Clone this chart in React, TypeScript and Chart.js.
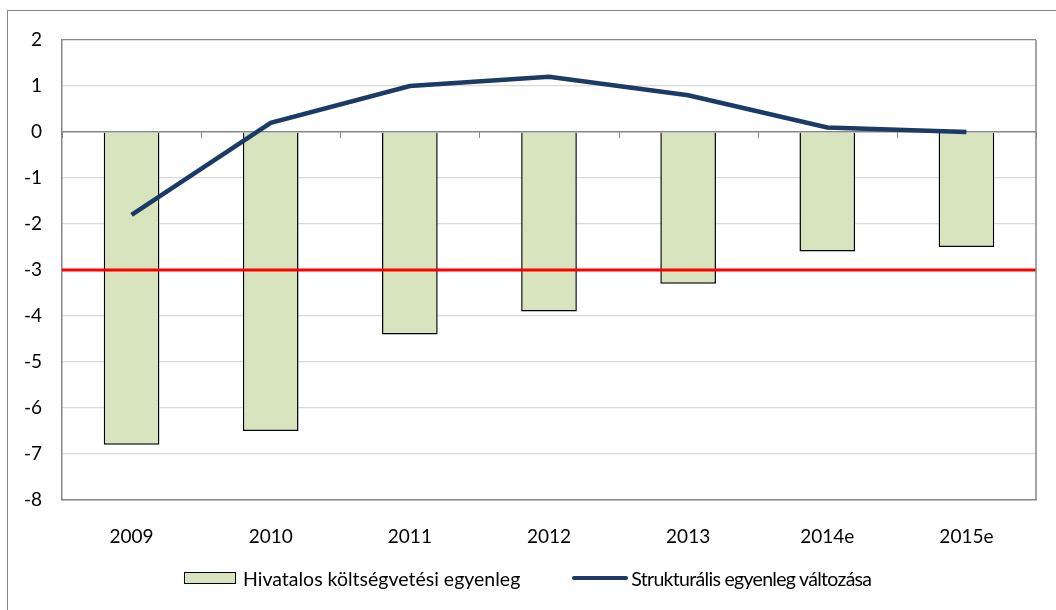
import React, { useEffect, useRef } from "react";
import { Chart, registerables } from "chart.js";

Chart.register(...registerables);

const categories = ["2009", "2010", "2011", "2012", "2013", "2014e", "2015e"];
const officialBalance = [-6.8, -6.5, -4.4, -3.9, -3.3, -2.6, -2.5];
const structuralChange = [-1.8, 0.2, 1.0, 1.2, 0.8, 0.1, 0.0];
const thresholdValue = -3;
const yMin = -8;
const yMax = 2;
const seriesNames = ["Hivatalos költségvetési egyenleg", "Strukturális egyenleg változása"];

const FONT = "Lato, 'Open Sans', sans-serif";
const BAR_FILL = "#d7e4bd";
const LINE_COLOR = "#1b3a66";
const AXIS_GRAY = "#868686";

const extrasPlugin = {
  id: "extras",
  afterDatasetsDraw(chart: any) {
    const { ctx, chartArea, scales } = chart;
    const y = scales.y;
    const x = scales.x;
    ctx.save();
    const ty = y.getPixelForValue(thresholdValue);
    ctx.strokeStyle = "#ff0000";
    ctx.lineWidth = 3;
    ctx.beginPath();
    ctx.moveTo(chartArea.left, ty);
    ctx.lineTo(chartArea.right, ty);
    ctx.stroke();
    ctx.strokeStyle = AXIS_GRAY;
    ctx.lineWidth = 1.5;
    ctx.beginPath();
    ctx.moveTo(chartArea.right, chartArea.top);
    ctx.lineTo(chartArea.right, chartArea.bottom);
    ctx.stroke();
    const zy = y.getPixelForValue(0);
    const n = categories.length;
    const step = (chartArea.right - chartArea.left) / n;
    ctx.lineWidth = 1;
    for (let i = 0; i <= n; i++) {
      const px = Math.round(x.getPixelForValue(0) - step / 2 + i * step) + 0.5;
      ctx.beginPath();
      ctx.moveTo(px, zy);
      ctx.lineTo(px, zy + 6);
      ctx.stroke();
    }
    ctx.restore();
  },
};

function ChartCanvas() {
  const ref = useRef<HTMLCanvasElement | null>(null);
  useEffect(() => {
    if (!ref.current) return;
    const chart = new Chart(ref.current, {
      type: "bar",
      data: {
        labels: categories,
        datasets: [
          {
            type: "line",
            label: seriesNames[1],
            data: structuralChange,
            borderColor: LINE_COLOR,
            backgroundColor: LINE_COLOR,
            borderWidth: 4.5,
            pointRadius: 0,
            tension: 0,
            order: 0,
          } as any,
          {
            type: "bar",
            label: seriesNames[0],
            data: officialBalance,
            backgroundColor: BAR_FILL,
            borderColor: "#000000",
            borderWidth: 1.5,
            categoryPercentage: 1,
            barPercentage: 0.4,
            order: 1,
          },
        ],
      },
      options: {
        responsive: false,
        animation: false,
        layout: { padding: { top: 40, right: 20, left: 0, bottom: 0 } },
        plugins: {
          legend: { display: false },
          tooltip: { enabled: false },
        },
        scales: {
          x: {
            grid: { display: false },
            border: { display: true, color: AXIS_GRAY, width: 1.5 },
            ticks: { color: "#000", font: { family: FONT, size: 19 }, padding: 17, maxRotation: 0 },
            afterFit: (s: any) => {
              s.height = 110;
            },
          },
          y: {
            min: yMin,
            max: yMax,
            ticks: { stepSize: 1, color: "#000", font: { family: FONT, size: 19 }, padding: 20 },
            grid: {
              drawTicks: false,
              color: (c: any) => (c.tick && (c.tick.value === 0 || c.tick.value === yMax) ? AXIS_GRAY : "#d9d9d9"),
              lineWidth: (c: any) => (c.tick && c.tick.value === 0 ? 1.5 : 1.2),
            },
            border: { display: true, color: AXIS_GRAY, width: 1.5 },
            afterFit: (s: any) => {
              s.width = 62;
            },
          },
        },
      },
      plugins: [extrasPlugin],
    });
    return () => chart.destroy();
  }, []);
  return <canvas ref={ref} width={1056} height={610} style={{ position: "absolute", left: 0, top: 0 }} />;
}

export default function App() {
  return (
    <div style={{ position: "fixed", left: 0, top: 0, width: 1056, height: 610, overflow: "hidden", background: "#fff" }}>
      <div
        style={{
          position: "absolute",
          left: 7,
          top: 10,
          width: 1060,
          height: 620,
          borderTop: `1.5px solid ${AXIS_GRAY}`,
          borderLeft: `1.5px solid ${AXIS_GRAY}`,
          boxSizing: "border-box",
        }}
      />
      <ChartCanvas />
      <div
        style={{
          position: "absolute",
          top: 566,
          left: 184,
          height: 24,
          display: "flex",
          alignItems: "center",
          fontFamily: FONT,
          fontSize: 19.5,
          color: "#000",
          whiteSpace: "nowrap",
        }}
      >
        <span
          style={{
            display: "inline-block",
            width: 52,
            height: 12,
            background: BAR_FILL,
            border: "1.5px solid #000",
            boxSizing: "border-box",
            marginRight: 7,
          }}
        />
        <span>{seriesNames[0]}</span>
        <span
          style={{
            display: "inline-block",
            width: 56,
            height: 4.5,
            background: LINE_COLOR,
            borderRadius: 2,
            marginLeft: 52,
            marginRight: 3,
          }}
        />
        <span style={{ letterSpacing: "-0.7px" }}>{seriesNames[1]}</span>
      </div>
    </div>
  );
}
